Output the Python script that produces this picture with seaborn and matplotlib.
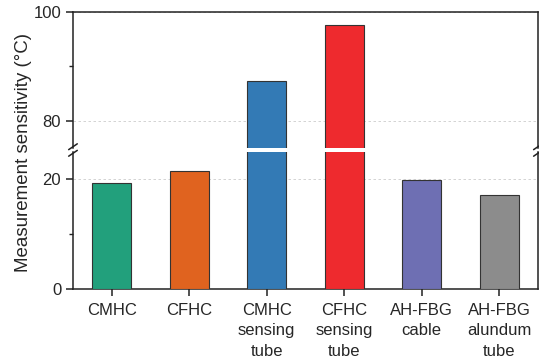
import matplotlib
matplotlib.use("Agg")
import matplotlib.pyplot as plt
from matplotlib.ticker import MultipleLocator
import seaborn as sns
import pandas as pd

# Số liệu
categories = ["CMHC", "CFHC", "CMHC\nsensing\ntube", "CFHC\nsensing\ntube",
              "AH-FBG\ncable", "AH-FBG\nalundum\ntube"]
sensitivity = [19.3, 21.5, 87.4, 97.6, 19.9, 17.2]
colors = ["#22A07C", "#E0631F", "#337AB5", "#EE2A2E", "#6E6FB3", "#8C8C8C"]

df = pd.DataFrame({"cat": categories, "val": sensitivity})

sns.set_style("ticks")
plt.rcParams["font.family"] = ["Liberation Sans", "DejaVu Sans"]
plt.rcParams["font.size"] = 12

fig = plt.figure(figsize=(5.39, 3.64), dpi=100)
ax_top = fig.add_axes([0.1354, 0.5934, 0.8626, 0.3736])
ax_bot = fig.add_axes([0.1354, 0.206, 0.8626, 0.3764])

for ax in (ax_top, ax_bot):
    sns.barplot(data=df, x="cat", y="val", hue="cat", palette=colors,
                saturation=1, width=0.5, edgecolor="#333333", linewidth=0.8,
                legend=False, ax=ax, zorder=3)
    ax.set_xlim(-0.5, 5.5)
    ax.set_xlabel("")
    ax.set_ylabel("")
    for s in ax.spines.values():
        s.set_linewidth(1.1)
        s.set_color("#222222")
    ax.grid(axis="y", which="major", color="#cccccc", linestyle=(0, (3, 3)),
            linewidth=0.6, zorder=0)
    ax.tick_params(axis="both", which="major", direction="out", length=5,
                   width=1.1, color="#222222", labelsize=12)
    ax.tick_params(axis="y", which="minor", direction="out", length=3,
                   width=1.0, color="#222222")

ax_top.set_ylim(75, 100)
ax_top.yaxis.set_major_locator(MultipleLocator(20))
ax_top.yaxis.set_minor_locator(MultipleLocator(10))
ax_top.spines["bottom"].set_visible(False)
ax_top.tick_params(axis="x", bottom=False, labelbottom=False)

ax_bot.set_ylim(0, 25)
ax_bot.yaxis.set_major_locator(MultipleLocator(20))
ax_bot.yaxis.set_minor_locator(MultipleLocator(10))
ax_bot.spines["top"].set_visible(False)
ax_bot.tick_params(axis="x", pad=5)
for lbl in ax_bot.get_xticklabels():
    lbl.set_linespacing(1.45)

# dấu ngắt trục
d = 0.008
kw = dict(transform=fig.transFigure, color="#222222", lw=1.1, clip_on=False)
y_mid = (0.5934 + 0.5824) / 2
for x0 in (0.1354, 0.998):
    for dy in (-0.009, 0.009):
        fig.add_artist(plt.Line2D([x0 - d, x0 + d],
                                  [y_mid + dy - 0.008, y_mid + dy + 0.008], **kw))

fig.text(0.043, 0.58, "Measurement sensitivity (°C)", rotation=90,
         ha="center", va="center", fontsize=13.5)

fig.savefig("out.png", dpi=100)
